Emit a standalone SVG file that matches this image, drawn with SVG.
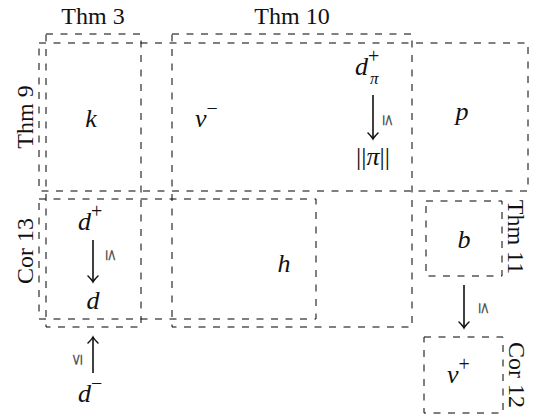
<svg xmlns="http://www.w3.org/2000/svg" width="539" height="415" viewBox="0 0 539 415">
<style>
.box{fill:none;stroke:#000;stroke-width:1;stroke-dasharray:7 7.5}
.lbl{font-size:24px;fill:#111}
.m{font-style:italic;font-size:26px;fill:#111}
.up{font-style:normal;font-size:20px}
.sub{font-size:17px}
.rel{font-size:16px;fill:#555}
.arr{stroke:#111;stroke-width:1.6;fill:none}
</style>
<defs>
<marker id="ah" markerWidth="12" markerHeight="12" refX="0" refY="0" viewBox="-8 -6 10 12" orient="auto" markerUnits="userSpaceOnUse">
<path d="M-6,-5 Q-2,-1 0,0 Q-2,1 -6,5" fill="none" stroke="#111" stroke-width="1.5" stroke-linecap="round"/>
</marker>
</defs>
<rect width="539" height="415" fill="#fff"/>

<g font-family="Liberation Serif, Times New Roman, serif">
<g id="thm3">
<rect class="box" x="46" y="34" width="95" height="293"/>
<text class="lbl" x="93" y="24" text-anchor="middle">Thm 3</text>
</g>
<g id="thm10">
<rect class="box" x="172" y="34" width="240" height="293"/>
<text class="lbl" x="292" y="24" text-anchor="middle">Thm 10</text>
</g>
<g id="thm9">
<rect class="box" x="39" y="43" width="489" height="148"/>
<text class="lbl" transform="translate(33,117) rotate(-90)" text-anchor="middle">Thm 9</text>
</g>
<g id="cor13">
<rect class="box" x="39" y="199" width="277" height="120"/>
<text class="lbl" transform="translate(33,251) rotate(-90)" text-anchor="middle">Cor 13</text>
</g>
<g id="thm11">
<rect class="box" x="426" y="201" width="76" height="75"/>
<text class="lbl" transform="translate(508,237) rotate(90)" text-anchor="middle">Thm 11</text>
</g>
<g id="cor12">
<rect class="box" x="424" y="337" width="79" height="76"/>
<text class="lbl" transform="translate(509,375) rotate(90)" text-anchor="middle">Cor 12</text>
</g>

<g id="k"><text class="m" x="91" y="127" text-anchor="middle">k</text></g>
<g id="vminus"><text class="m" x="195" y="127">v<tspan class="up" dy="-12">−</tspan></text></g>
<g id="dpiplus"><text class="m" x="355" y="75">d<tspan class="up" dy="-12">+</tspan></text><text class="m sub" x="370" y="84">π</text></g>
<g id="normpi"><text class="m" x="373" y="165" text-anchor="middle"><tspan font-style="normal">||</tspan>π<tspan font-style="normal">||</tspan></text></g>
<g id="p"><text class="m" x="462" y="120" text-anchor="middle">p</text></g>
<g id="dplus"><text class="m" x="78" y="230">d<tspan class="up" dy="-12">+</tspan></text></g>
<g id="d"><text class="m" x="93" y="309" text-anchor="middle">d</text></g>
<g id="dminus"><text class="m" x="78" y="402">d<tspan class="up" dy="-12">−</tspan></text></g>
<g id="h"><text class="m" x="284" y="272" text-anchor="middle">h</text></g>
<g id="b"><text class="m" x="464" y="248" text-anchor="middle">b</text></g>
<g id="vplus"><text class="m" x="447" y="383">v<tspan class="up" dy="-12">+</tspan></text></g>
</g>

<g id="connectors" font-family="DejaVu Sans, sans-serif">
<line class="arr" x1="373" y1="95" x2="373" y2="139" marker-end="url(#ah)"/>
<text class="rel" transform="translate(388,120) rotate(90)" text-anchor="middle" dominant-baseline="central">≤</text>
<line class="arr" x1="93" y1="240" x2="93" y2="282" marker-end="url(#ah)"/>
<text class="rel" transform="translate(111,255) rotate(90)" text-anchor="middle" dominant-baseline="central">≤</text>
<line class="arr" x1="93" y1="373" x2="93" y2="337" marker-end="url(#ah)"/>
<text class="rel" transform="translate(76,360) rotate(-90)" text-anchor="middle" dominant-baseline="central">≤</text>
<line class="arr" x1="464" y1="285" x2="464" y2="328" marker-end="url(#ah)"/>
<text class="rel" transform="translate(484,308) rotate(90)" text-anchor="middle" dominant-baseline="central">≤</text>
</g>
</svg>
